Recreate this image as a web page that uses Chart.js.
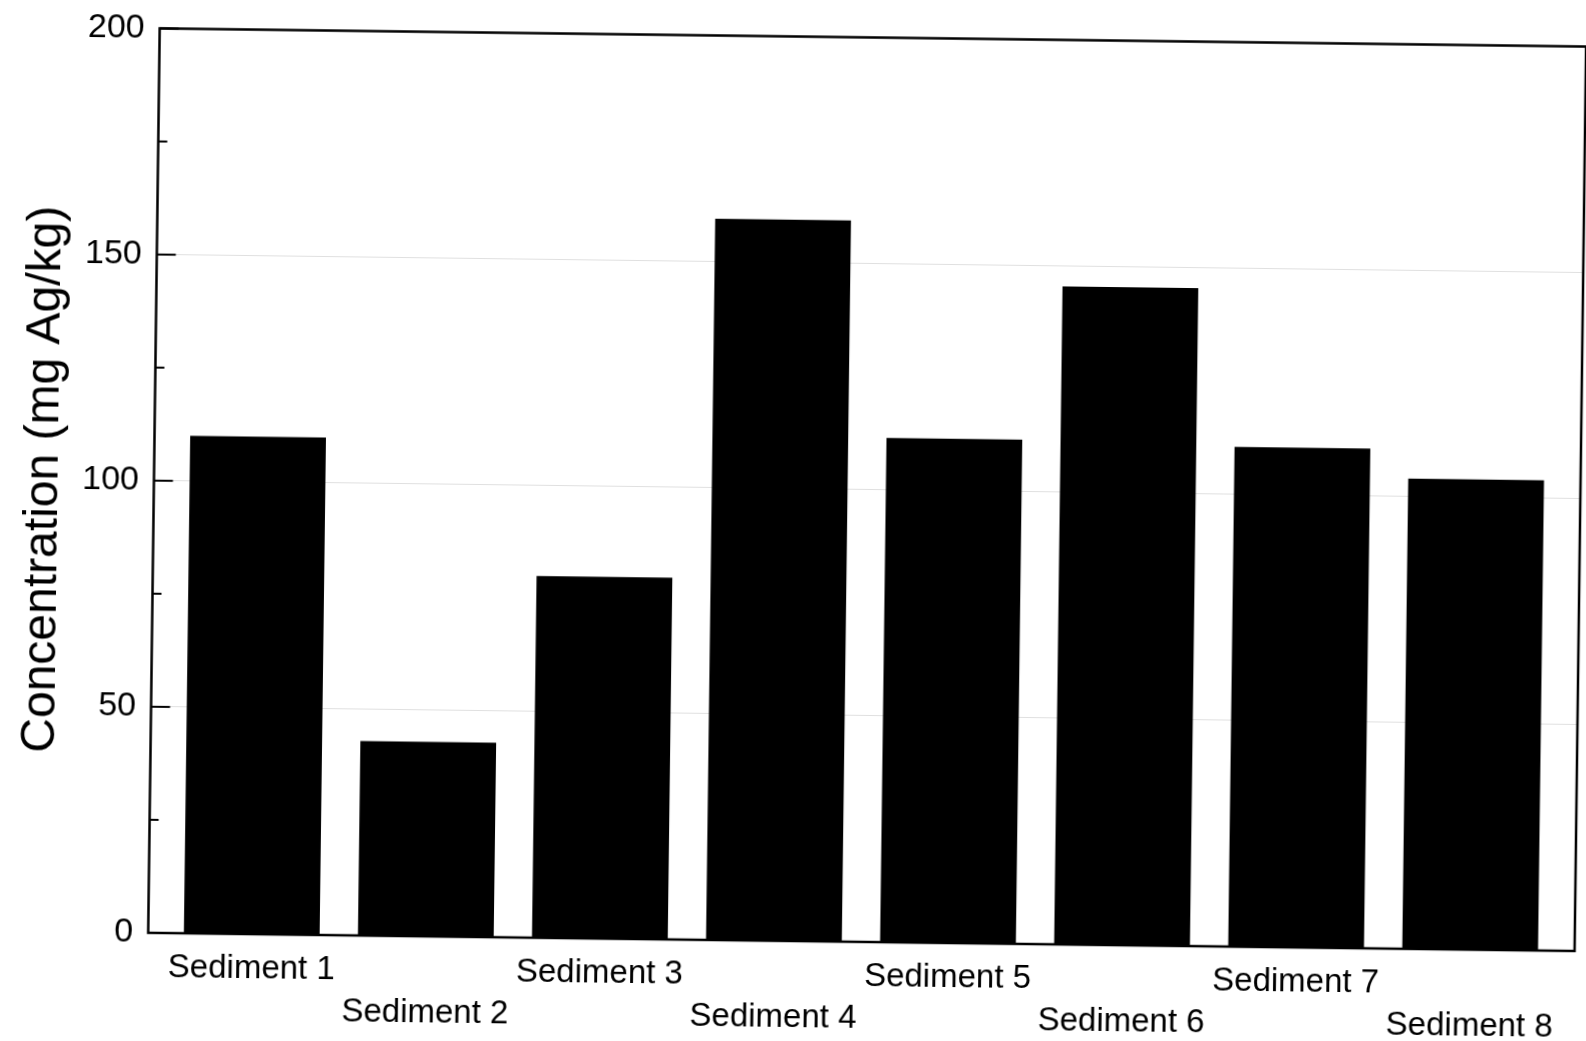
<!DOCTYPE html>
<html>
<head>
<meta charset="utf-8">
<script src="https://cdn.jsdelivr.net/npm/chart.js@4/dist/chart.umd.min.js"></script>
<style>
  html, body { margin: 0; padding: 0; background: #fff; overflow: hidden; }
  #wrap { width: 1586px; height: 1041px; transform: rotate(0.73deg); transform-origin: 793px 520px; }
  canvas { display: block; }
</style>
</head>
<body>
<div id="wrap"><canvas id="c" width="1586" height="1041"></canvas></div>
<script>
// Silver concentration in each sediment (mg Ag/kg)
const categories = ['Sediment 1', 'Sediment 2', 'Sediment 3', 'Sediment 4',
                    'Sediment 5', 'Sediment 6', 'Sediment 7', 'Sediment 8'];
const silver = [110, 43, 80, 159.5, 111.5, 145.5, 110.5, 104];
const yMajorTicks = [0, 50, 100, 150, 200];
const yMinorTicks = [25, 75, 125, 175];
const yTitle = 'Concentration (mg Ag/kg)';

const FONT = "'Liberation Sans', Arial, Helvetica, sans-serif";

// Box around the plot and inward-pointing ticks on the left axis
const framePlugin = {
  id: 'frame',
  afterDatasetsDraw(chart) {
    const { ctx, chartArea: a, scales: { y } } = chart;
    ctx.save();
    ctx.strokeStyle = '#000';
    ctx.lineWidth = 2.5;
    ctx.strokeRect(a.left, a.top, a.right - a.left, a.bottom - a.top);
    ctx.lineWidth = 2;
    const tick = (v, len) => {
      const p = y.getPixelForValue(v);
      ctx.beginPath();
      ctx.moveTo(a.left, p);
      ctx.lineTo(a.left + len, p);
      ctx.stroke();
    };
    yMajorTicks.forEach(v => tick(v, 19));
    yMinorTicks.forEach(v => tick(v, 9));
    ctx.restore();
  }
};

new Chart(document.getElementById('c'), {
  type: 'bar',
  data: {
    datasets: [{
      data: categories.map((c, i) => ({ x: i + 1, y: silver[i] })),
      backgroundColor: '#000',
      borderWidth: 0,
      categoryPercentage: 1,
      barPercentage: 0.78
    }]
  },
  options: {
    responsive: false,
    animation: false,
    devicePixelRatio: 1,
    layout: { padding: { top: 36.5, right: 6, left: 0, bottom: 0 } },
    plugins: { legend: { display: false }, tooltip: { enabled: false } },
    scales: {
      x: {
        type: 'linear',
        offset: false,
        min: 0.405,
        max: 8.6,
        border: { display: false },
        grid: { display: false, drawTicks: false, offset: false },
        afterBuildTicks: s => { s.ticks = categories.map((c, i) => ({ value: i + 1 })); },
        afterFit: s => { s.height = 100; },
        ticks: {
          autoSkip: false,
          maxRotation: 0,
          minRotation: 0,
          padding: 14,
          color: '#000',
          font: { family: FONT, size: 33, lineHeight: 1.27 },
          callback: v => {
            const i = Math.round(v) - 1;
            return i % 2 ? ['', categories[i]] : categories[i];
          }
        }
      },
      y: {
        min: 0,
        max: 200,
        border: { display: false },
        grid: {
          drawTicks: false,
          lineWidth: 1,
          borderDash: [2, 5],
          color: c => (c.tick && (c.tick.value === 0 || c.tick.value === 200)) ? 'rgba(0,0,0,0)' : 'rgba(0,0,0,0.12)'
        },
        afterBuildTicks: s => { s.ticks = yMajorTicks.map(v => ({ value: v })); },
        afterFit: s => { s.width = 153.5; },
        ticks: {
          padding: 15,
          color: '#000',
          font: { family: FONT, size: 34 }
        },
        title: {
          display: true,
          text: yTitle,
          color: '#000',
          padding: { top: 15, bottom: 0 },
          font: { family: FONT, size: 48, lineHeight: 1.2 }
        }
      }
    }
  },
  plugins: [framePlugin]
});
</script>
</body>
</html>
